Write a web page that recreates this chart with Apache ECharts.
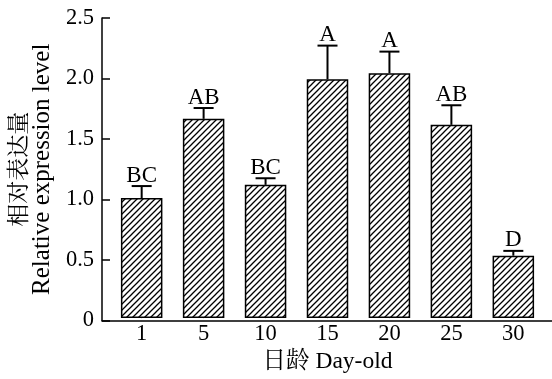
<!DOCTYPE html>
<html>
<head>
<meta charset="utf-8">
<script src="https://cdn.jsdelivr.net/npm/echarts@6/dist/echarts.min.js"></script>
<style>
html,body{margin:0;padding:0;background:#fff;}
#c{width:552px;height:379px;}
</style>
</head>
<body>
<div id="c"></div>
<script>
const categories = ['1', '5', '10', '15', '20', '25', '30'];
const means = [1.00, 1.66, 1.11, 1.99, 2.04, 1.61, 0.52];
const errors = [0.10, 0.09, 0.055, 0.28, 0.18, 0.163, 0.04];
const letters = ['BC', 'AB', 'BC', 'A', 'A', 'AB', 'D'];
const yMin = 0, yMax = 2.5, yStep = 0.5;

const FONT = "'Liberation Serif', 'Noto Serif CJK SC', 'Noto Sans CJK SC', serif";

function hatch() {
  const c = document.createElement('canvas');
  c.width = 6; c.height = 6;
  const g = c.getContext('2d');
  g.fillStyle = '#fff'; g.fillRect(0, 0, 6, 6);
  g.strokeStyle = '#000'; g.lineWidth = 1.3;
  g.beginPath();
  g.moveTo(0, 6); g.lineTo(6, 0);
  g.moveTo(-1, 1); g.lineTo(1, -1);
  g.moveTo(5, 7); g.lineTo(7, 5);
  g.stroke();
  return c;
}

const chart = echarts.init(document.getElementById('c'), null, {renderer: 'canvas'});
const option = {
  animation: false,
  backgroundColor: '#fff',
  grid: [
    {left: 100, right: 0, top: 18, bottom: 58.5},
    {left: 110.7, right: 7.7, top: 18, bottom: 58.5}
  ],
  xAxis: [
    {gridIndex: 0, type: 'value', min: 0, max: 1,
     axisLine: {show: true, lineStyle: {color: '#000', width: 1.5}},
     axisTick: {show: false}, axisLabel: {show: false}, splitLine: {show: false}},
    {gridIndex: 1, type: 'category', data: categories,
     axisLine: {show: false},
     axisTick: {show: true, inside: true, alignWithLabel: true, length: 5, lineStyle: {color: '#000', width: 1}},
     axisLabel: {color: '#000', fontSize: 22.5, fontFamily: FONT, margin: 5},
     name: '日龄 Day-old', nameLocation: 'middle', nameGap: 30,
     nameTextStyle: {color: '#000', fontSize: 23.5, fontFamily: FONT}}
  ],
  yAxis: [
    {gridIndex: 0, type: 'value', min: yMin, max: yMax, interval: yStep,
     axisLine: {show: true, lineStyle: {color: '#000', width: 1.5}},
     axisTick: {show: true, inside: true, length: 8, lineStyle: {color: '#000', width: 1.5}},
     axisLabel: {color: '#000', fontSize: 22.5, fontFamily: FONT, margin: 8,
       formatter: v => v === 0 ? '0' : v.toFixed(1)},
     splitLine: {show: false},
     name: '{a|相对表达量}\n{b|Relative expression level}', nameLocation: 'middle', nameGap: 42, nameRotate: 90,
     nameTextStyle: {color: '#000', fontFamily: FONT,
       rich: {a: {fontSize: 23, lineHeight: 23, fontFamily: FONT, color: '#000'},
              b: {fontSize: 25, lineHeight: 23, fontFamily: FONT, color: '#000'}}}},
    {gridIndex: 1, type: 'value', min: yMin, max: yMax, interval: yStep, show: false}
  ],
  series: [
    {type: 'bar', xAxisIndex: 1, yAxisIndex: 1, data: means, barWidth: 41.5,
     itemStyle: {color: {image: hatch(), repeat: 'repeat'}, borderColor: '#000', borderWidth: 1.5}},
    {type: 'custom', xAxisIndex: 1, yAxisIndex: 1,
     data: means.map((m, i) => [i, m, errors[i]]),
     renderItem: function (params, api) {
       const i = api.value(0), m = api.value(1), e = api.value(2);
       const p0 = api.coord([i, m]);
       const p1 = api.coord([i, m + e]);
       const half = 10;
       return {type: 'group', children: [
         {type: 'line', shape: {x1: p0[0], y1: p0[1], x2: p1[0], y2: p1[1]}, style: {stroke: '#000', lineWidth: 2}},
         {type: 'line', shape: {x1: p1[0] - half, y1: p1[1], x2: p1[0] + half, y2: p1[1]}, style: {stroke: '#000', lineWidth: 2}},
         {type: 'text', x: p1[0], y: p1[1] + 1,
          style: {text: letters[params.dataIndex], fill: '#000', font: '23px ' + FONT, textAlign: 'center', textVerticalAlign: 'bottom'}}
       ]};
     }}
  ]
};
chart.setOption(option);
</script>
</body>
</html>
